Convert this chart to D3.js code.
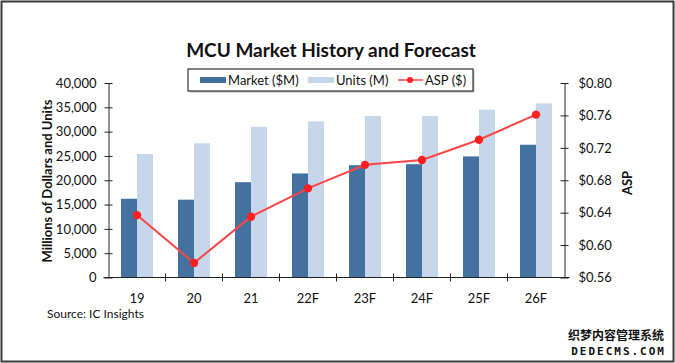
<!DOCTYPE html>
<html>
<head>
<meta charset="utf-8">
<script src="https://cdn.jsdelivr.net/npm/d3@7"></script>
<style>
  body { margin: 0; background: #fff; }
  text { font-family: Lato, "Open Sans", sans-serif; fill: #111; }
  .axis path, .axis line { stroke: #222; }
</style>
</head>
<body>
<div id="chart"></div>
<script>
var years = ["19", "20", "21", "22F", "23F", "24F", "25F", "26F"],
    market = [16200, 16000, 19600, 21400, 23100, 23300, 24900, 27300],
    units = [25400, 27600, 31000, 32100, 33200, 33200, 34500, 35800],
    asp = [0.637, 0.578, 0.635, 0.670, 0.699, 0.705, 0.730, 0.761],
    leftTicks = [0, 5000, 10000, 15000, 20000, 25000, 30000, 35000, 40000],
    rightTicks = [0.56, 0.60, 0.64, 0.68, 0.72, 0.76, 0.80];

// note: "top" is reserved on window, so plot edges get a prefix
var W = 675, H = 363,
    plotL = 108.5, plotR = 564.5, plotT = 83, plotB = 277.5,
    barW = 16;

var svg = d3.select("#chart").append("svg")
    .attr("width", W)
    .attr("height", H);

// outer frame
svg.append("rect").attr("x", 1.5).attr("y", 1.5).attr("width", W - 3).attr("height", H - 3)
    .attr("fill", "none").attr("stroke", "#3a3a3a").attr("stroke-width", 2);

var x = d3.scaleBand().domain(years).range([plotL, plotR]);
var y = d3.scaleLinear().domain([0, 40000]).range([plotB, plotT]);
var yR = d3.scaleLinear().domain([0.56, 0.80]).range([plotB, plotT]);

// bars
var g = svg.append("g");
g.selectAll(".mkt").data(market).enter().append("rect")
    .attr("x", function(d, i) { return x(years[i]) + x.bandwidth() / 2 - barW; })
    .attr("y", function(d) { return y(d); })
    .attr("width", barW)
    .attr("height", function(d) { return plotB - y(d); })
    .style("fill", "#4371a0");

g.selectAll(".unt").data(units).enter().append("rect")
    .attr("x", function(d, i) { return x(years[i]) + x.bandwidth() / 2; })
    .attr("y", function(d) { return y(d); })
    .attr("width", barW)
    .attr("height", function(d) { return plotB - y(d); })
    .style("fill", "#c6d7eb");

// ASP line
var line = d3.line()
    .x(function(d, i) { return x(years[i]) + x.bandwidth() / 2; })
    .y(function(d) { return yR(d); });

g.append("path").datum(asp)
    .attr("d", line)
    .attr("fill", "none")
    .attr("stroke", "#ff4444")
    .attr("stroke-width", 2);

g.selectAll(".dot").data(asp).enter().append("circle")
    .attr("cx", function(d, i) { return x(years[i]) + x.bandwidth() / 2; })
    .attr("cy", function(d) { return yR(d); })
    .attr("r", 4.2)
    .style("fill", "#ff1f1f");

// axes
var yAxis = svg.append("g").attr("class", "axis")
    .attr("transform", "translate(" + plotL + ",0)")
    .call(d3.axisLeft(y).tickValues(leftTicks).tickSizeInner(4).tickSizeOuter(0).tickPadding(8)
        .tickFormat(d3.format(",")));
yAxis.selectAll(".tick line").attr("x1", 4);
yAxis.selectAll("text").style("font-size", "13px");

var rAxis = svg.append("g").attr("class", "axis")
    .attr("transform", "translate(" + plotR + ",0)")
    .call(d3.axisRight(yR).tickValues(rightTicks).tickSizeInner(4).tickSizeOuter(0).tickPadding(10)
        .tickFormat(function(d) { return "$" + d.toFixed(2); }));
rAxis.selectAll(".tick line").attr("x1", -4);
rAxis.selectAll("text").style("font-size", "13px");

var xAxis = svg.append("g").attr("class", "axis")
    .attr("transform", "translate(0," + plotB + ")");
xAxis.append("line").attr("x1", plotL - 5).attr("x2", plotR + 5).attr("stroke", "#222");
xAxis.selectAll(".xt").data(years.slice(1)).enter().append("line")
    .attr("x1", function(d) { return x(d); })
    .attr("x2", function(d) { return x(d); })
    .attr("y1", -4).attr("y2", 4)
    .attr("stroke", "#222");
xAxis.selectAll(".xl").data(years).enter().append("text")
    .attr("x", function(d) { return x(d) + x.bandwidth() / 2; })
    .attr("y", 25)
    .attr("text-anchor", "middle")
    .style("font-size", "13px")
    .text(function(d) { return d; });

// titles
svg.append("text").attr("x", 331).attr("y", 57).attr("text-anchor", "middle")
    .style("font-size", "19px").style("font-weight", "bold")
    .text("MCU Market History and Forecast");

svg.append("text").attr("transform", "translate(52,181) rotate(-90)")
    .attr("text-anchor", "middle").style("font-size", "13px").style("font-weight", "bold")
    .text("Millions of Dollars and Units");

svg.append("text").attr("transform", "translate(632,183) rotate(-90)")
    .attr("text-anchor", "middle").style("font-size", "13px").style("font-weight", "bold")
    .text("ASP");

svg.append("text").attr("x", 47).attr("y", 318)
    .style("font-size", "12px").text("Source:  IC Insights");

// legend
var lg = svg.append("g").attr("transform", "translate(188,69)");
lg.append("rect").attr("x", 1.5).attr("y", 1.5).attr("width", 285).attr("height", 22)
    .attr("fill", "#bbb");
lg.append("rect").attr("width", 285).attr("height", 22)
    .attr("fill", "#fff").attr("stroke", "#333").attr("stroke-width", 1.2);
lg.append("rect").attr("x", 12).attr("y", 8).attr("width", 26).attr("height", 6).style("fill", "#4371a0");
lg.append("text").attr("x", 40).attr("y", 15.5).style("font-size", "13px").text("Market ($M)");
lg.append("rect").attr("x", 120).attr("y", 8).attr("width", 26).attr("height", 6).style("fill", "#c6d7eb");
lg.append("text").attr("x", 148).attr("y", 15.5).style("font-size", "13px").text("Units (M)");
lg.append("line").attr("x1", 210).attr("x2", 235).attr("y1", 11).attr("y2", 11)
    .attr("stroke", "#ff4444").attr("stroke-width", 1.5);
lg.append("circle").attr("cx", 222).attr("cy", 11).attr("r", 3).style("fill", "#ff1f1f");
lg.append("text").attr("x", 237).attr("y", 15.5).style("font-size", "13px").text("ASP ($)");

// watermark
var wm = svg.append("g");
wm.append("text").attr("x", 664).attr("y", 340).attr("text-anchor", "end")
    .style("font-family", "'Noto Sans CJK SC', sans-serif")
    .style("font-size", "12px").style("font-weight", "bold")
    .style("stroke", "#fff").style("stroke-width", 3).style("paint-order", "stroke")
    .text("织梦内容管理系统");
wm.append("text").attr("x", 666).attr("y", 355).attr("text-anchor", "end")
    .style("font-size", "11px").style("letter-spacing", "2px").style("font-weight", "bold")
    .style("font-family", "'DejaVu Sans Mono', monospace")
    .style("stroke", "#fff").style("stroke-width", 3).style("paint-order", "stroke")
    .text("DEDECMS.COM");
</script>
</body>
</html>
